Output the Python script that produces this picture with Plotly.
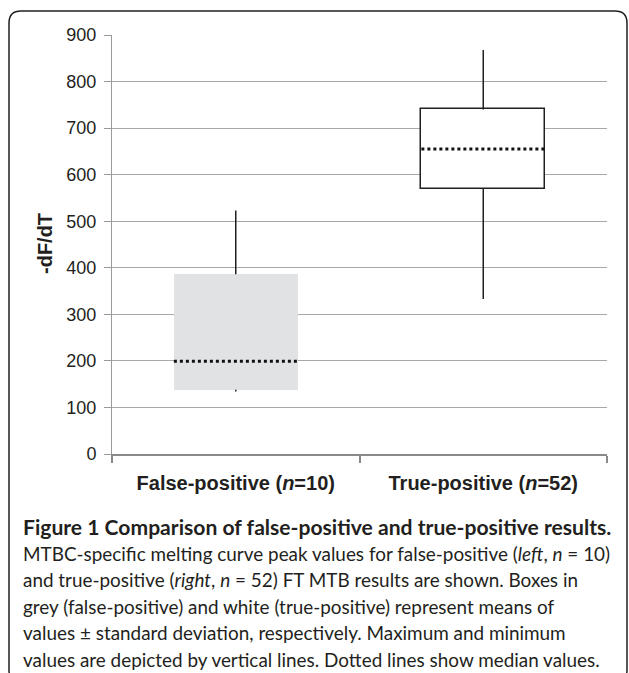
import plotly.graph_objects as go

# ---------------- data ----------------
categories = ["<b>False-positive (<i>n</i>=10)</b>", "<b>True-positive (<i>n</i>=52)</b>"]
mean_minus_sd = [138, 569]
mean_plus_sd = [386, 740]
medians = [199, 655]
minimums = [134, 333]
maximums = [523, 868]
box_fill = ["#e1e2e4", "#ffffff"]
box_edge = ["#e1e2e4", "#231f20"]
box_edge_w = [0, 1.5]

caption_title = "<b>Figure 1 Comparison of false-positive and true-positive results.</b>"
caption_lines = [
    "MTBC-specific melting curve peak values for false-positive (<i>left</i>, <i>n</i> = 10)",
    "and true-positive (<i>right</i>, <i>n</i> = 52) FT MTB results are shown. Boxes in",
    "grey (false-positive) and white (true-positive) represent means of",
    "values ± standard deviation, respectively. Maximum and minimum",
    "values are depicted by vertical lines. Dotted lines show median values.",
]

# ---------------- layout geometry (pixels) ----------------
W, H = 629, 673
L, R, T, B = 112, 607, 35, 454


def px_x(px):
    return (px - L) / (R - L)


def px_y(py):
    return (B - py) / (B - T)


fig = go.Figure()

# boxes (mean ± SD)
fig.add_trace(go.Bar(
    x=categories,
    base=mean_minus_sd,
    y=[u - l for u, l in zip(mean_plus_sd, mean_minus_sd)],
    width=0.5,
    marker=dict(color=box_fill, line=dict(color=box_edge, width=box_edge_w)),
    hoverinfo="skip",
    showlegend=False,
))

# whiskers (min / max) drawn outside the boxes
wx, wy = [], []
for c, lo, hi, mn, mx in zip(categories, mean_minus_sd, mean_plus_sd, minimums, maximums):
    wx += [c, c, None, c, c, None]
    wy += [hi, mx, None, mn, lo, None]
fig.add_trace(go.Scatter(
    x=wx, y=wy, mode="lines",
    line=dict(color="#231f20", width=1.5),
    hoverinfo="skip", showlegend=False, connectgaps=False,
))

shapes = []
# medians as dotted lines across the box width
for i, med in enumerate(medians):
    shapes.append(dict(
        type="line", xref="x", yref="y",
        x0=i - 0.25, x1=i + 0.25, y0=med, y1=med,
        line=dict(color="#111111", width=3, dash="dot"),
    ))

# rounded frame around figure + caption (bottom edge runs off the picture)
x0, x1, y0, y1, r = 9, 627, 11, 682, 12
pts = [
    ("M", x0 + r, y0), ("L", x1 - r, y0), ("Q", x1, y0, x1, y0 + r),
    ("L", x1, y1 - r), ("Q", x1, y1, x1 - r, y1), ("L", x0 + r, y1),
    ("Q", x0, y1, x0, y1 - r), ("L", x0, y0 + r), ("Q", x0, y0, x0 + r, y0),
]
path = ""
for p in pts:
    cmd = p[0]
    coords = p[1:]
    seg = []
    for k in range(0, len(coords), 2):
        seg.append(f"{px_x(coords[k]):.5f},{px_y(coords[k+1]):.5f}")
    path += cmd + " " + " ".join(seg) + " "
path += "Z"
shapes.append(dict(type="path", xref="paper", yref="paper", path=path,
                   line=dict(color="#231f20", width=1.5), fillcolor="rgba(0,0,0,0)",
                   layer="below"))

annotations = [
    dict(text="<b>-dF/dT</b>", xref="paper", yref="paper",
         x=px_x(45), y=px_y(244), textangle=-90, showarrow=False,
         font=dict(family="Liberation Sans, Arial", size=20, color="#231f20"),
         xanchor="center", yanchor="middle"),
    dict(text=caption_title, xref="paper", yref="paper",
         x=px_x(21), y=px_y(526), xanchor="left", yanchor="middle", showarrow=False,
         font=dict(family="Lato", size=21.1, color="#231f20")),
]

line_y0, line_dy = 553, 26.6
for k, txt in enumerate(caption_lines):
    annotations.append(dict(
        text=txt, xref="paper", yref="paper",
        x=px_x(21), y=px_y(line_y0 + k * line_dy),
        xanchor="left", yanchor="middle", showarrow=False,
        font=dict(family="Lato", size=18.9, color="#231f20"),
    ))

fig.update_layout(
    width=W, height=H,
    margin=dict(l=L, r=W - R, t=T, b=H - B, pad=0),
    paper_bgcolor="white", plot_bgcolor="white",
    bargap=0,
    shapes=shapes,
    annotations=annotations,
    xaxis=dict(
        type="category", tickson="boundaries",
        showline=True, linecolor="#8a8a8a", linewidth=1.5,
        ticks="outside", ticklen=7, tickcolor="#8a8a8a", tickwidth=1.5,
        showgrid=False, zeroline=False,
        tickfont=dict(family="Liberation Sans, Arial", size=20, color="#231f20"),
        ticklabelstandoff=10,
        range=[-0.5, 1.5],
        fixedrange=True,
    ),
    yaxis=dict(
        range=[0, 900], dtick=100, tick0=0,
        showline=True, linecolor="#9a9a9a", linewidth=1,
        ticks="outside", ticklen=7, tickcolor="#9a9a9a",
        showgrid=True, gridcolor="#a8a8a8", gridwidth=1.2,
        zeroline=False,
        tickfont=dict(family="Liberation Sans, Arial", size=18, color="#231f20"),
        ticklabelstandoff=4,
        fixedrange=True,
    ),
)

fig.write_html("out.html", config={"displayModeBar": False},
               post_script="document.body.style.margin='0';document.body.style.overflow='hidden';")
